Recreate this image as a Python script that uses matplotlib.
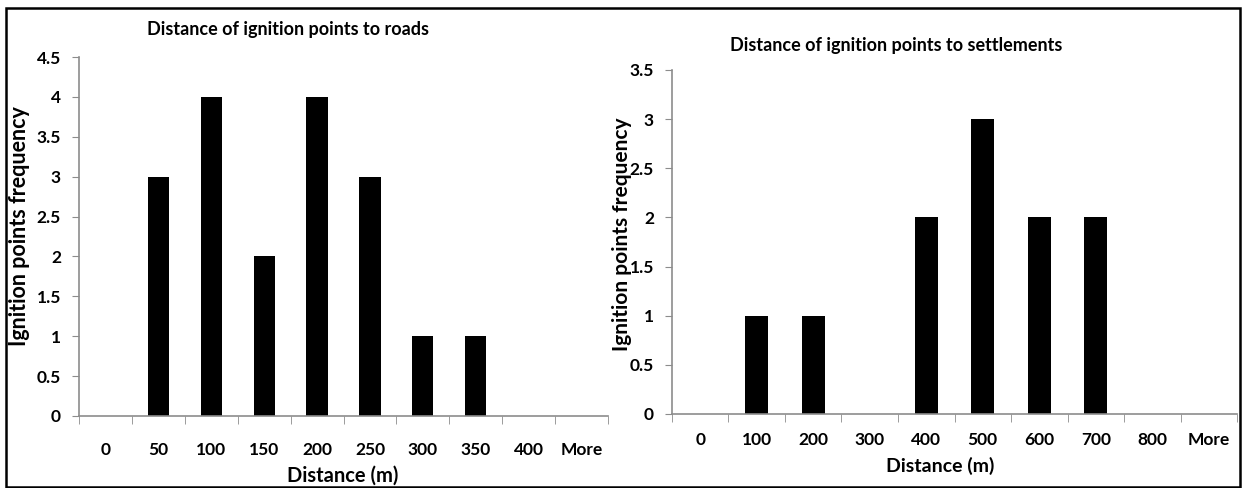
import matplotlib.pyplot as plt
from matplotlib.patches import Rectangle
import numpy as np

# Data
road_bins = ["0", "50", "100", "150", "200", "250", "300", "350", "400", "More"]
road_freq = [0, 3, 4, 2, 4, 3, 1, 1, 0, 0]

settle_bins = ["0", "100", "200", "300", "400", "500", "600", "700", "800", "More"]
settle_freq = [0, 1, 1, 0, 2, 3, 2, 2, 0, 0]

plt.rcParams['font.family'] = ['Lato', 'DejaVu Sans']
plt.rcParams['font.weight'] = 'bold'

W, H = 1243, 488
fig = plt.figure(figsize=(W / 100, H / 100), dpi=100)


def style_axis(ax, labels, values, ymax, xlabel_pad):
    x = np.arange(len(labels))
    ax.bar(x, values, width=0.4, color='black')
    ax.set_xlim(-0.5, len(labels) - 0.5)
    ax.set_ylim(0, ymax)
    yt = np.arange(0, ymax + 0.01, 0.5)
    ax.set_yticks(yt)
    ax.set_yticklabels([f"{v:g}" for v in yt])
    ax.set_xticks(x)
    ax.set_xticklabels(labels)
    # category boundaries get the small grey tick marks
    ax.set_xticks(np.arange(-0.5, len(labels)), minor=True)
    ax.tick_params(axis='x', which='major', length=0, pad=xlabel_pad, labelsize=12.5)
    ax.tick_params(axis='x', which='minor', length=6, color='#8c8c8c', direction='out')
    ax.tick_params(axis='y', length=5, color='#8c8c8c', direction='out', labelsize=12.5, pad=8)
    for side in ['top', 'right']:
        ax.spines[side].set_visible(False)
    for side in ['left', 'bottom']:
        ax.spines[side].set_color('#8c8c8c')
        ax.spines[side].set_linewidth(1.2)


# Left chart: roads
ax1 = fig.add_axes([79 / W, 1 - 416 / H, (608 - 79) / W, (416 - 57) / H])
style_axis(ax1, road_bins, road_freq, 4.5, 19)
fig.text(288 / W, 1 - 30 / H, "Distance of ignition points to roads",
         ha='center', va='center', fontsize=13, fontweight='bold')
fig.text(343 / W, 1 - 476 / H, "Distance (m)", ha='center', va='center',
         fontsize=14.5, fontweight='bold')
fig.text(20 / W, 1 - 226 / H, "Ignition points frequency", ha='center', va='center',
         rotation=90, fontsize=15.5, fontweight='bold')

# Right chart: settlements
ax2 = fig.add_axes([672 / W, 1 - 414 / H, (1237 - 672) / W, (414 - 70) / H])
style_axis(ax2, settle_bins, settle_freq, 3.5, 13)
fig.text(896 / W, 1 - 46 / H, "Distance of ignition points to settlements",
         ha='center', va='center', fontsize=13, fontweight='bold')
fig.text(940 / W, 1 - 466 / H, "Distance (m)", ha='center', va='center',
         fontsize=14, fontweight='bold')
fig.text(622 / W, 1 - 234 / H, "Ignition points frequency", ha='center', va='center',
         rotation=90, fontsize=15, fontweight='bold')

# outer frame around both charts
fig.patches.append(Rectangle((6 / W, 1 - 487 / H), (1240 - 6) / W, (487 - 8) / H,
                             transform=fig.transFigure, fill=False,
                             edgecolor='black', linewidth=1.8))

fig.savefig("out.png", dpi=100)
